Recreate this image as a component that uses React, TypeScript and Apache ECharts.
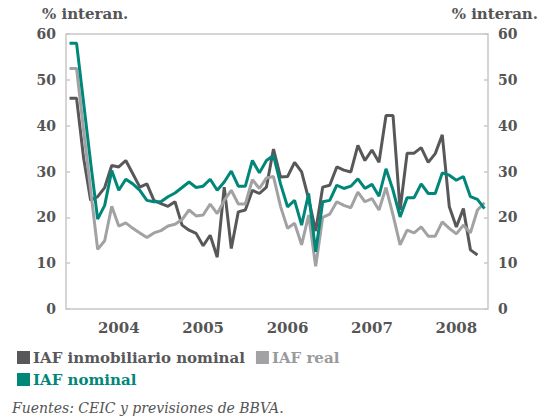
import React, { useEffect, useRef } from "react";
import * as echarts from "echarts";

// Monthly categories Dec 2003 – Nov 2008
const months: string[] = (() => {
  const out: string[] = [];
  let y = 2003, m = 12;
  for (let k = 0; k < 60; k++) {
    out.push(`${y}-${String(m).padStart(2, "0")}`);
    m++;
    if (m > 12) { m = 1; y++; }
  }
  return out;
})();

const yTicks = [0, 10, 20, 30, 40, 50, 60];

const iafInmobiliarioNominal: (number | null)[] = [
  46, 46, 33, 23.7, 24.5, 26.5, 31.3, 31.0, 32.4, 29.5,
  26.6, 27.3, 23.7, 23.0, 22.4, 23.4, 18.3, 17.2, 16.5, 13.8,
  16.1, 11.3, 26.6, 13.2, 21.2, 21.6, 25.9, 25.2, 26.6, 34.9,
  28.8, 28.9, 32.0, 29.9, 24.0, 17.0, 26.6, 27.0, 31.0, 30.3,
  29.9, 35.7, 32.4, 34.7, 32.0, 42.2, 42.2, 21.6, 34.0, 34.0,
  35.2, 32.0, 33.9, 38.0, 22.3, 17.9, 21.9, 12.9, 11.8, null,
];

const iafReal: number[] = [
  52.5, 52.5, 39, 26, 13.0, 14.9, 22.4, 18.1, 18.8, 17.6,
  16.6, 15.6, 16.6, 17.1, 18.1, 18.5, 19.5, 21.6, 20.3, 20.5,
  22.9, 20.8, 23.7, 25.9, 22.9, 22.9, 28.2, 26.3, 28.6, 28.9,
  22.4, 17.6, 18.7, 14.0, 20.5, 9.3, 20.0, 20.7, 23.4, 22.6,
  22.1, 25.5, 23.4, 24.1, 21.6, 26.5, 20.5, 14.0, 17.2, 16.6,
  17.9, 15.9, 15.9, 19.0, 17.6, 16.4, 18.3, 16.6, 21.6, 23.2,
];

const iafNominal: number[] = [
  58, 58, 45, 32, 19.6, 22.6, 30.2, 25.9, 28.3, 27.3,
  25.9, 23.7, 23.4, 23.4, 24.5, 25.3, 26.5, 27.7, 26.5, 26.8,
  28.3, 25.9, 27.7, 30.1, 26.8, 26.8, 32.4, 29.7, 32.4, 33.5,
  27.3, 22.3, 23.7, 18.3, 25.2, 12.5, 23.4, 23.7, 27.0, 26.3,
  26.8, 28.4, 26.3, 27.2, 24.6, 30.6, 25.9, 20.1, 24.3, 24.3,
  27.3, 25.2, 25.2, 29.7, 29.2, 28.1, 28.9, 24.5, 23.9, 21.9,
];

const C_DARK = "#58585a";
const C_GRAY = "#a2a2a4";
const C_TEAL = "#00877a";
const C_TEXT = "#555555";
const FONT = "DejaVu Serif";

export default function App() {
  const ref = useRef<HTMLDivElement>(null);

  useEffect(() => {
    document.body.style.margin = "0";
    const chart = echarts.init(ref.current!, null, { renderer: "svg" });
    const yAxisBase = {
      type: "value" as const,
      min: yTicks[0],
      max: yTicks[yTicks.length - 1],
      interval: 10,
      axisLine: { show: false },
      axisTick: { show: true, inside: true, length: 4, lineStyle: { color: "#c8c8c8", width: 1.5 } },
      splitLine: { show: false },
      axisLabel: { color: C_TEXT, fontFamily: FONT, fontSize: 14, fontWeight: "bold", margin: 10 },
    };
    chart.setOption({
      animation: false,
      backgroundColor: "#ffffff",
      grid: {
        left: 66, right: 51, top: 34, bottom: 107,
        show: true, borderColor: "#c8c8c8", borderWidth: 1.5,
      },
      xAxis: {
        type: "category",
        data: months,
        boundaryGap: true,
        axisLine: { show: false },
        axisTick: { show: false },
        axisLabel: {
          interval: (_i: number, v: string) => v.endsWith("-07"),
          formatter: (v: string) => v.slice(0, 4),
          color: C_TEXT, fontFamily: FONT, fontSize: 15, fontWeight: "bold", margin: 11,
        },
      },
      yAxis: [
        { ...yAxisBase, position: "left" },
        { ...yAxisBase, position: "right" },
      ],
      legend: [
        {
          left: 12, top: 345, itemWidth: 13, itemHeight: 13, itemGap: 11,
          icon: "rect",
          textStyle: { fontFamily: FONT, fontSize: 15, fontWeight: "bold", padding: [0, 0, 0, -2] },
          data: [
            { name: "IAF inmobiliario nominal", textStyle: { color: C_DARK } },
            { name: "IAF real", textStyle: { color: "#9a9a9c" } },
          ],
        },
        {
          left: 12, top: 367, itemWidth: 13, itemHeight: 13,
          icon: "rect",
          textStyle: { fontFamily: FONT, fontSize: 15, fontWeight: "bold", padding: [0, 0, 0, -2] },
          data: [{ name: "IAF nominal", textStyle: { color: C_TEAL } }],
        },
      ],
      graphic: [
        {
          type: "text", left: 42, top: 6,
          style: { text: "% interan.", fill: C_TEXT, font: `bold 15px "${FONT}"` },
        },
        {
          type: "text", right: 1, top: 6,
          style: { text: "% interan.", fill: C_TEXT, font: `bold 15px "${FONT}"` },
        },
        {
          type: "text", left: 12, top: 401,
          style: {
            text: "Fuentes: CEIC y previsiones de BBVA.",
            fill: C_TEXT, font: `italic 14px "${FONT}"`,
          },
        },
      ],
      series: [
        {
          name: "IAF inmobiliario nominal", type: "line", data: iafInmobiliarioNominal,
          showSymbol: false, symbol: "none", lineStyle: { color: C_DARK, width: 3 },
          itemStyle: { color: C_DARK },
        },
        {
          name: "IAF real", type: "line", data: iafReal,
          showSymbol: false, symbol: "none", lineStyle: { color: C_GRAY, width: 3 },
          itemStyle: { color: C_GRAY },
        },
        {
          name: "IAF nominal", type: "line", data: iafNominal,
          showSymbol: false, symbol: "none", lineStyle: { color: C_TEAL, width: 3 },
          itemStyle: { color: C_TEAL },
        },
      ],
    });
    return () => chart.dispose();
  }, []);

  return (
    <div
      ref={ref}
      style={{ position: "fixed", left: 0, top: 0, width: 539, height: 416 }}
    />
  );
}
